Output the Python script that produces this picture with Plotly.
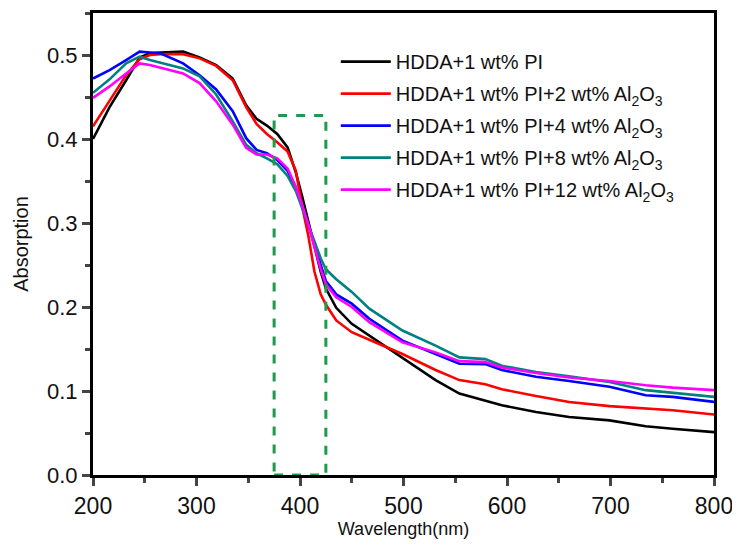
import plotly.graph_objects as go

wavelength = [200, 216, 232, 245, 255, 265, 287, 303, 319, 335, 348, 358, 368, 378, 388, 396,
              402, 408, 414, 420, 425, 435, 450, 467, 499, 531, 554, 579, 595, 628, 660, 699,
              734, 760, 800]

abs_pi = [0.400, 0.438, 0.470, 0.497, 0.502, 0.503, 0.504, 0.497, 0.488, 0.472, 0.440, 0.424,
          0.416, 0.406, 0.390, 0.360, 0.332, 0.302, 0.270, 0.242, 0.222, 0.199, 0.180, 0.166,
          0.140, 0.113, 0.097, 0.089, 0.083, 0.075, 0.069, 0.065, 0.058, 0.055, 0.051]
abs_al2 = [0.415, 0.445, 0.476, 0.495, 0.500, 0.501, 0.501, 0.496, 0.487, 0.470, 0.438, 0.418,
           0.406, 0.396, 0.385, 0.362, 0.320, 0.285, 0.242, 0.215, 0.203, 0.184, 0.170, 0.161,
           0.144, 0.125, 0.113, 0.108, 0.102, 0.094, 0.087, 0.082, 0.079, 0.077, 0.072]
abs_al4 = [0.472, 0.482, 0.494, 0.504, 0.503, 0.502, 0.490, 0.476, 0.459, 0.433, 0.401, 0.387,
           0.383, 0.375, 0.362, 0.342, 0.320, 0.298, 0.275, 0.250, 0.231, 0.215, 0.204, 0.186,
           0.160, 0.144, 0.1325, 0.132, 0.125, 0.117, 0.112, 0.105, 0.095, 0.093, 0.087]
abs_al8 = [0.455, 0.471, 0.490, 0.498, 0.494, 0.491, 0.484, 0.4745, 0.453, 0.421, 0.393, 0.383,
           0.377, 0.370, 0.356, 0.338, 0.318, 0.298, 0.279, 0.258, 0.245, 0.233, 0.218, 0.198,
           0.172, 0.154, 0.140, 0.138, 0.130, 0.1226, 0.1174, 0.1107, 0.101, 0.098, 0.093]
abs_al12 = [0.449, 0.4626, 0.478, 0.490, 0.488, 0.485, 0.478, 0.4666, 0.4448, 0.417, 0.3895,
            0.3816, 0.3816, 0.377, 0.365, 0.343, 0.322, 0.298, 0.272, 0.245, 0.227, 0.2115,
            0.200, 0.182, 0.158, 0.146, 0.1356, 0.1344, 0.128, 0.1214, 0.116, 0.112, 0.1068,
            0.104, 0.101]

series_names = [
    "HDDA+1 wt% PI",
    "HDDA+1 wt% PI+2 wt% Al<sub>2</sub>O<sub>3</sub>",
    "HDDA+1 wt% PI+4 wt% Al<sub>2</sub>O<sub>3</sub>",
    "HDDA+1 wt% PI+8 wt% Al<sub>2</sub>O<sub>3</sub>",
    "HDDA+1 wt% PI+12 wt% Al<sub>2</sub>O<sub>3</sub>",
]
series_values = [abs_pi, abs_al2, abs_al4, abs_al8, abs_al12]
series_colors = ["#000000", "#ff0000", "#0000ff", "#008080", "#ff00ff"]

highlight_x = [375, 425]
highlight_y = [0.0, 0.428]

x_ticks = [200, 300, 400, 500, 600, 700, 800]
y_ticks = [0.0, 0.1, 0.2, 0.3, 0.4, 0.5]

FONT = "Arial, Liberation Sans, sans-serif"

fig = go.Figure()
for i, (name, vals, col) in enumerate(zip(series_names, series_values, series_colors)):
    fig.add_trace(go.Scatter(x=wavelength, y=vals, mode="lines", name=name,
                             legendgroup=f"g{i}",
                             line=dict(color=col, width=2.6)))

fig.add_shape(type="rect", xref="x", yref="y",
              x0=highlight_x[0], x1=highlight_x[1], y0=highlight_y[0], y1=highlight_y[1],
              line=dict(color="#1e9a4c", width=3, dash="dash"))

# the page body adds an 8px offset, so the figure is 8px smaller and shifted
fig.update_layout(
    width=732, height=541,
    margin=dict(l=85, r=26, t=5, b=74, autoexpand=False),
    paper_bgcolor="white", plot_bgcolor="white",
    font=dict(family=FONT, color="#111111"),
    showlegend=True,
    legend=dict(x=0.391, y=0.937, xanchor="left", yanchor="top",
                font=dict(size=20, family=FONT, color="#111111"),
                bgcolor="rgba(0,0,0,0)", itemwidth=50, tracegroupgap=3),
)
fig.update_xaxes(range=[200, 800], tickvals=x_ticks, ticks="outside", ticklen=8, tickwidth=2.5,
                 showline=True, linewidth=3, linecolor="black", mirror=True, showgrid=False,
                 zeroline=False, automargin=False,
                 tickfont=dict(size=23, family=FONT, color="#111111"),
                 minor=dict(ticks="outside", ticklen=5, tickwidth=2.5, dtick=50, showgrid=False),
                 title=dict(text="Wavelength(nm)", font=dict(size=18, family=FONT), standoff=4))
fig.update_yaxes(range=[0, 0.55], tickvals=y_ticks, tickformat=".1f", ticks="outside", ticklen=8,
                 tickwidth=2.5, showline=True, linewidth=3, linecolor="black", mirror=True,
                 showgrid=False, zeroline=False, automargin=False,
                 tickfont=dict(size=22, family=FONT, color="#111111"),
                 minor=dict(ticks="outside", ticklen=5, tickwidth=2.5, dtick=0.05, showgrid=False),
                 title=dict(text="Absorption", font=dict(size=20, family=FONT), standoff=14))

fig.write_html("out.html")
